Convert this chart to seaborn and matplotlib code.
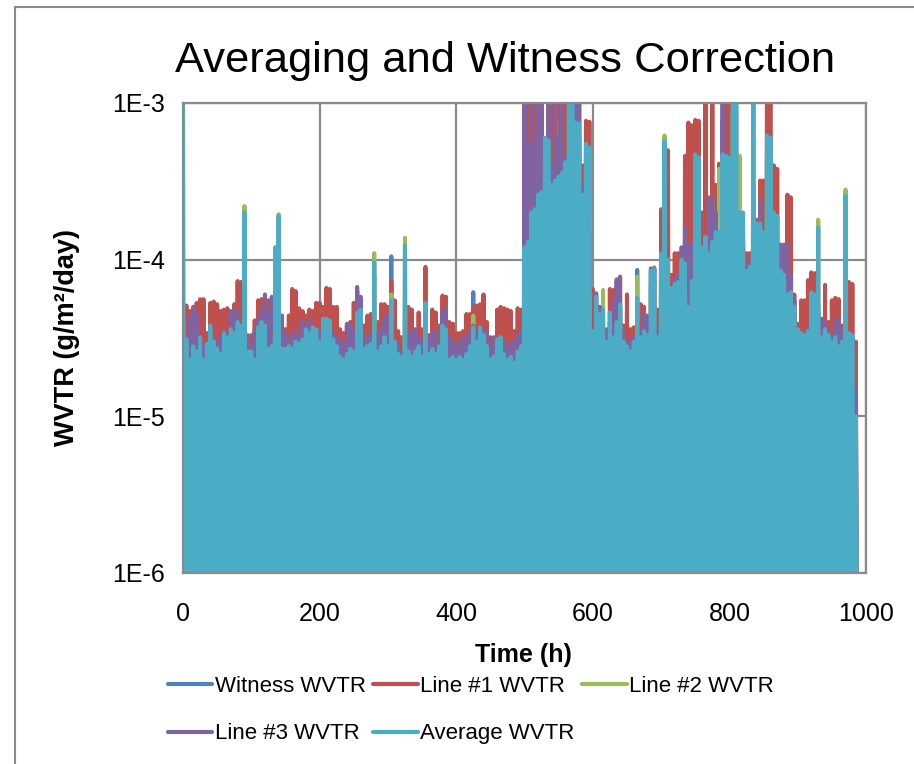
import matplotlib
matplotlib.use("Agg")
import matplotlib.pyplot as plt
import seaborn as sns
import pandas as pd
from matplotlib.patches import Rectangle
from matplotlib.ticker import FixedLocator, FixedFormatter, NullLocator

# ------------------------------------------------------------
# Datos (WVTR en unidades de 1e-5 g/m2/day, una lectura cada 5 h)
# ------------------------------------------------------------
hours = list(range(0, 990, 5))
# lecturas que caen por debajo del eje (se dibujan entre cada medida)
dropout = 0.01

witness = [
    1.8, 1.6, 1.9, 1.7, 2.0, 1.8, 1.6, 1.9, 2.1, 1.7,
    1.8, 1.6, 1.9, 2.0, 1.7, 1.8, 2.2, 1.9, 1.8, 1.6,
    1.7, 1.5, 2.0, 2.1, 1.9, 1.7, 1.8, 1.9, 2.0, 1.6,
    1.7, 1.8, 1.6, 1.9, 1.8, 2.0, 2.1, 1.9, 2.0, 1.8,
    1.9, 2.1, 2.0, 1.8, 1.7, 1.6, 1.5, 1.6, 1.7, 1.8,
    1.7, 2.2, 2.3, 1.6, 1.7, 1.8, 2.0, 1.6, 1.7, 1.9,
    1.8, 10.5, 1.9, 1.6, 1.5, 2.0, 1.7, 1.6, 1.7, 1.8,
    1.6, 2.4, 1.7, 1.8, 1.6, 1.7, 2.0, 1.9, 1.5, 1.6,
    1.5, 1.6, 1.5, 1.7, 1.8, 6.2, 1.9, 2.0, 1.9, 1.7,
    1.5, 1.6, 1.8, 1.9, 1.6, 1.5, 1.6, 1.5, 1.7, 1.8,
    6.0, 6.5, 9.0, 9.5, 11, 12, 20, 19, 13, 14,
    15, 16, 18, 30, 35, 25, 24, 12, 20, 18,
    2.0, 2.6, 2.2, 2.3, 1.8, 2.2, 1.9, 2.1, 2.4, 1.8,
    1.7, 1.6, 1.8, 8.6, 1.9, 2.0, 1.9, 3.5, 3.6, 1.9,
    4.5, 15, 4.2, 3.2, 3.3, 3.4, 4.2, 4.0, 2.6, 3.4,
    12, 11, 5.0, 5.5, 4.8, 5.4, 6.0, 12, 12, 11,
    11, 25, 28, 8.0, 8.0, 4.0, 4.2, 30, 7.0, 7.0,
    6.5, 16, 15, 8.0, 7.5, 4.0, 3.8, 3.0, 3.1, 2.6,
    2.0, 1.9, 1.8, 1.9, 2.8, 2.7, 5.0, 1.8, 2.0, 1.9,
    1.7, 1.8, 1.6, 1.7, 6.0, 1.9, 1.8, 0.6,
]

line1 = [
    5.0, 5.1, 4.7, 4.8, 5.3, 5.6, 5.6, 3.4, 5.3, 5.4,
    5.2, 4.7, 4.8, 4.9, 4.7, 5.2, 7.3, 7.2, 3.6, 3.2,
    3.3, 4.1, 5.5, 5.6, 5.0, 5.5, 4.5, 4.8, 4.0, 3.8,
    3.6, 4.4, 6.5, 6.3, 4.9, 4.7, 4.4, 4.8, 4.7, 5.3,
    5.3, 5.0, 6.6, 6.5, 5.0, 5.0, 3.6, 3.4, 3.8, 4.0,
    5.3, 6.3, 5.6, 3.8, 4.4, 4.5, 8.0, 4.0, 5.2, 5.2,
    5.0, 7.3, 5.5, 3.5, 3.2, 4.0, 5.0, 4.8, 3.4, 4.6,
    3.6, 9.0, 3.3, 4.8, 4.6, 3.8, 5.9, 5.8, 4.0, 3.9,
    3.4, 3.4, 3.5, 4.5, 4.5, 5.0, 5.1, 5.2, 6.0, 4.0,
    3.2, 3.1, 4.8, 5.0, 4.9, 4.8, 4.7, 3.5, 4.9, 4.8,
    40, 150, 35, 150, 150, 45, 50, 40, 150, 150,
    150, 50, 150, 60, 150, 150, 150, 40, 77, 76,
    6.5, 3.5, 3.0, 4.0, 3.6, 6.5, 6.4, 7.3, 5.0, 3.8,
    6.0, 3.6, 3.7, 4.5, 5.2, 5.0, 4.4, 3.5, 3.8, 4.8,
    21, 15, 50, 8.0, 11, 11, 6.0, 46, 75, 72,
    78, 77, 20, 150, 12, 150, 30, 41, 79, 150,
    150, 18, 20, 15, 12, 11, 11, 26, 18, 32,
    32, 150, 150, 40, 38, 9.0, 10, 26, 25, 6.0,
    3.9, 5.5, 5.5, 7.4, 8.3, 8.2, 4.5, 4.0, 6.9, 4.0,
    5.5, 5.7, 5.6, 3.8, 4.0, 7.2, 7.0, 3.0,
]

line2 = [
    2.5, 2.6, 2.0, 2.4, 2.3, 2.7, 2.0, 2.5, 3.2, 2.6,
    2.3, 2.2, 2.9, 2.7, 3.0, 2.9, 3.4, 3.2, 22.0, 2.2,
    2.2, 2.0, 3.1, 3.4, 3.2, 2.3, 2.4, 10.0, 19.5, 2.3,
    2.3, 2.4, 2.3, 2.6, 2.5, 2.6, 3.0, 2.9, 3.1, 3.0,
    2.6, 3.5, 3.5, 3.4, 2.6, 2.4, 2.1, 2.0, 2.2, 2.3,
    2.2, 3.8, 4.0, 2.3, 2.4, 2.5, 11.0, 2.2, 2.4, 2.7,
    2.4, 6.0, 2.6, 2.2, 2.1, 13.8, 2.2, 2.1, 2.2, 2.4,
    2.1, 4.2, 2.2, 2.3, 2.2, 2.4, 3.2, 3.0, 2.0, 2.1,
    1.9, 2.1, 2.0, 2.2, 2.4, 4.4, 2.6, 3.1, 2.8, 2.4,
    2.0, 2.1, 2.6, 2.7, 2.2, 2.0, 2.1, 1.9, 2.2, 2.4,
    10, 11, 18, 19, 39, 24, 50, 48, 28, 78,
    30, 32, 38, 90, 100, 70, 65, 24, 50, 48,
    2.8, 4.6, 3.6, 6.4, 2.4, 3.7, 2.6, 3.2, 4.2, 2.4,
    2.2, 2.1, 2.4, 7.8, 2.6, 2.8, 2.6, 6.8, 7.0, 2.6,
    9.0, 62, 8.0, 5.3, 5.6, 5.8, 8.0, 7.6, 4.0, 5.8,
    40, 38, 10, 11, 9.0, 23, 12, 38, 40, 38,
    38, 90, 95, 46, 16, 7.0, 7.5, 100, 14, 14,
    12, 50, 48, 16, 15, 7.0, 6.5, 5.0, 5.0, 4.0,
    2.9, 2.7, 2.6, 2.8, 5.0, 4.8, 18, 2.6, 2.9, 2.6,
    2.4, 2.6, 2.2, 2.4, 28, 2.7, 2.6, 0.8,
]

line3 = [
    3.0, 3.2, 4.3, 5.0, 4.5, 3.0, 2.8, 2.5, 3.5, 2.9,
    3.0, 3.2, 3.5, 3.3, 4.6, 4.9, 4.5, 3.8, 3.0, 3.3,
    2.8, 3.5, 4.2, 4.8, 6.0, 4.5, 5.8, 3.5, 3.8, 4.4,
    3.4, 3.0, 3.3, 3.5, 3.2, 4.0, 3.8, 4.2, 3.6, 3.5,
    3.5, 3.8, 3.6, 3.3, 3.4, 3.2, 3.0, 2.9, 3.9, 3.8,
    3.5, 6.7, 5.8, 3.0, 3.3, 3.2, 3.0, 3.4, 3.6, 4.2,
    4.4, 4.0, 3.0, 2.8, 2.5, 3.1, 3.3, 3.5, 3.6, 3.2,
    3.0, 3.2, 3.1, 3.4, 3.5, 3.0, 4.6, 4.8, 3.2, 3.0,
    2.8, 3.0, 3.2, 3.0, 3.5, 3.8, 3.4, 3.5, 3.6, 3.4,
    2.8, 3.2, 3.0, 2.9, 3.0, 2.8, 2.9, 3.0, 3.3, 3.5,
    150, 54, 150, 55, 150, 150, 45, 150, 40, 150,
    60, 150, 45, 50, 40, 150, 150, 30, 20, 15,
    3.5, 6.1, 5.0, 3.2, 3.5, 4.0, 5.5, 7.5, 7.8, 3.5,
    3.0, 2.9, 3.2, 4.0, 3.5, 4.5, 4.3, 8.8, 8.9, 3.6,
    8.0, 35, 9.0, 6.0, 7.5, 8.0, 12, 16, 12.5, 12.5,
    14, 12, 10, 13, 25, 24, 20, 15, 150, 40,
    45, 13, 12, 14, 13, 9.0, 10, 14, 16, 24,
    14, 18, 20, 13, 12, 12.5, 12.5, 12.5, 8.0, 5.5,
    3.2, 3.0, 3.3, 3.6, 3.8, 4.0, 4.2, 4.2, 4.0, 3.5,
    3.2, 4.2, 4.0, 3.5, 3.2, 3.0, 3.3, 1.5,
]

average = [
    120, 3.1, 2.3, 2.8, 2.6, 3.2, 2.3, 2.9, 3.8, 3.0,
    2.7, 2.5, 3.4, 3.2, 3.6, 3.4, 4.0, 3.8, 20.0, 2.6,
    2.6, 2.3, 3.7, 4.0, 3.8, 2.7, 2.8, 12.0, 19.0, 2.7,
    2.7, 2.8, 2.7, 3.0, 2.9, 3.1, 3.6, 3.4, 3.7, 3.6,
    3.0, 4.2, 4.2, 4.1, 3.1, 2.8, 2.4, 2.3, 2.5, 2.7,
    2.6, 4.6, 4.8, 2.7, 2.8, 2.9, 9.6, 2.6, 2.8, 3.2,
    2.8, 5.5, 3.0, 2.5, 2.4, 12.3, 2.6, 2.4, 2.6, 2.8,
    2.4, 5.3, 2.5, 2.7, 2.5, 2.8, 3.8, 3.6, 2.3, 2.4,
    2.3, 2.4, 2.3, 2.5, 2.8, 3.7, 3.0, 3.7, 3.3, 2.8,
    2.3, 2.4, 3.1, 3.2, 2.5, 2.3, 2.4, 2.2, 2.6, 2.8,
    12, 13, 20, 21, 26, 27, 60, 58, 30, 32,
    34, 36, 42, 110, 120, 75, 74, 26, 55, 52,
    3.5, 5.8, 4.5, 4.8, 3.0, 4.6, 3.2, 4.0, 5.2, 3.0,
    2.8, 2.6, 3.0, 5.7, 3.2, 3.5, 3.3, 8.5, 8.7, 3.2,
    11, 57, 10, 6.6, 7.0, 7.2, 10, 9.5, 5.0, 7.3,
    47, 45, 12, 14, 11, 13, 15, 15, 47, 46,
    45, 110, 120, 20, 20, 8.5, 9.0, 130, 17, 17,
    15, 62, 60, 20, 19, 8.5, 8.0, 6.0, 6.2, 5.0,
    3.6, 3.4, 3.3, 3.5, 6.2, 6.0, 16, 3.2, 3.6, 3.3,
    3.0, 3.2, 2.8, 3.0, 25.5, 3.4, 3.3, 1.0,
]

decades = [1e-6, 1e-5, 1e-4, 1e-3]
decade_labels = ["1E-6", "1E-5", "1E-4", "1E-3"]
hour_ticks = [0, 200, 400, 600, 800, 1000]

series = [
    ("Witness WVTR", witness, "#4F81BD"),
    ("Line #1 WVTR", line1, "#C0504D"),
    ("Line #2 WVTR", line2, "#9BBB59"),
    ("Line #3 WVTR", line3, "#8064A2"),
    ("Average WVTR", average, "#4BACC6"),
]

# tabla larga: cada lectura seguida de su caída por debajo del eje
rows = []
for name, vals, _ in series:
    assert len(vals) == len(hours), name
    for t, v in zip(hours, vals):
        rows.append((name, t, v * 1e-5))
        rows.append((name, t + 2.5, dropout * 1e-5))
df = pd.DataFrame(rows, columns=["serie", "hora", "wvtr"])

# ------------------------------------------------------------
# Gráfico
# ------------------------------------------------------------
sns.set_style("white")
plt.rcParams["font.family"] = ["Liberation Sans", "DejaVu Sans"]
for key in ["text.color", "axes.labelcolor", "xtick.color", "ytick.color"]:
    plt.rcParams[key] = "black"

fig = plt.figure(figsize=(9.14, 7.64), dpi=100)
ax = fig.add_axes([0.2002, 0.25, 0.7473, 0.6152])

for name, _, color in series:
    sns.lineplot(
        data=df[df["serie"] == name],
        x="hora",
        y="wvtr",
        color=color,
        lw=2.9,
        estimator=None,
        sort=False,
        label=name,
        ax=ax,
    )

ax.set_yscale("log")
ax.set_ylim(1e-6, 1e-3)
ax.set_xlim(0, 1000)
ax.yaxis.set_major_locator(FixedLocator(decades))
ax.yaxis.set_major_formatter(FixedFormatter(decade_labels))
ax.yaxis.set_minor_locator(NullLocator())
ax.set_xticks(hour_ticks)

grid_gray = "#8A8A8A"
ax.set_axisbelow(True)
ax.grid(True, color=grid_gray, lw=1.6)
for s in ax.spines.values():
    s.set_color(grid_gray)
    s.set_linewidth(1.6)
ax.tick_params(axis="both", length=0, labelsize=18, colors="black")
ax.tick_params(axis="y", pad=13)
ax.tick_params(axis="x", pad=21)

ax.set_xlabel("Time (h)", fontsize=18, fontweight="bold")
ax.set_ylabel("WVTR (g/m²/day)", fontsize=19.5, fontweight="bold")
ax.xaxis.set_label_coords(0.499, -0.149)
ax.yaxis.set_label_coords(-0.151, 0.5)

# leyenda en dos filas, orden por filas como en Excel
h, l = ax.get_legend_handles_labels()
ax.get_legend().remove()
order = [0, 3, 1, 4, 2]
leg = fig.legend(
    [h[i] for i in order],
    [l[i] for i in order],
    ncol=3,
    loc="center left",
    bbox_to_anchor=(0.1838, 0.0707),
    frameon=False,
    fontsize=16,
    handlelength=2.0,
    handletextpad=0.1,
    columnspacing=0.35,
    labelspacing=1.2,
    borderpad=0,
    borderaxespad=0,
)
for line in leg.get_lines():
    line.set_linewidth(3.0)

fig.text(0.5525, 0.92, "Averaging and Witness Correction", fontsize=31.3,
         ha="center", va="center")

# marco del área del gráfico
fig.patches.append(
    Rectangle((15 / 914, -0.1), 1.2, 1.1 - 7 / 764,
              transform=fig.transFigure, fill=False, edgecolor=grid_gray, lw=1.5)
)

fig.savefig("out.png", dpi=100)
